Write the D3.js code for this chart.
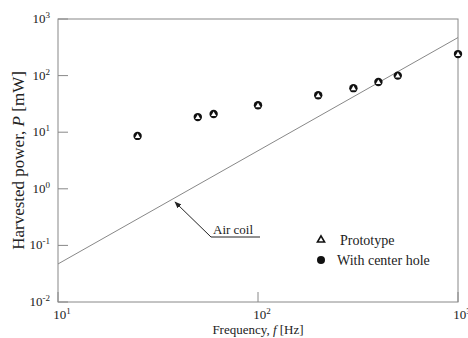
<!DOCTYPE html>
<html>
<head>
<meta charset="utf-8">
<script src="https://cdn.jsdelivr.net/npm/d3@7"></script>
<style>
body { margin: 0; background: #fff; overflow: hidden; }
text { font-family: "Liberation Serif", "Times New Roman", serif; fill: #222; }
</style>
</head>
<body>
<script>
var freq = [25, 50, 60, 100, 200, 300, 400, 500, 1000];
var prototype = [8.6, 18.5, 21, 30, 45, 60, 77, 100, 240];
var centerHole = [8.6, 18.5, 21, 30, 45, 60, 77, 100, 240];
var airCoilF = [10, 1000];
var airCoilP = [0.047, 470];
var xTicks = [1, 2, 3];
var yTicks = [-2, -1, 0, 1, 2, 3];

var width = 468, height = 338;
var padL = 58, padR = 458, padT = 19, padB = 302;

var svg = d3.select("body").append("svg")
  .attr("width", width)
  .attr("height", height);

var xscale = d3.scaleLog().domain([10, 1000]).range([padL, padR]);
var yscale = d3.scaleLog().domain([0.01, 1000]).range([padB, padT]);

// frame
svg.append("rect")
  .attr("x", padL).attr("y", padT)
  .attr("width", padR - padL).attr("height", padB - padT)
  .attr("fill", "none").attr("stroke", "#888").attr("stroke-width", 1);

// ticks (inside)
svg.selectAll(".xt").data(xTicks).enter().append("line")
  .attr("x1", d => xscale(Math.pow(10, d))).attr("x2", d => xscale(Math.pow(10, d)))
  .attr("y1", padB).attr("y2", padB - 10)
  .attr("stroke", "#888");
svg.selectAll(".yt").data(yTicks).enter().append("line")
  .attr("x1", padL).attr("x2", padL + 10)
  .attr("y1", d => yscale(Math.pow(10, d))).attr("y2", d => yscale(Math.pow(10, d)))
  .attr("stroke", "#888");

// tick labels 10^n
var xl = svg.selectAll(".xl").data(xTicks).enter().append("text")
  .attr("x", d => xscale(Math.pow(10, d)) + 4)
  .attr("y", padB + 17)
  .attr("text-anchor", "middle")
  .style("font-size", "13px");
xl.append("tspan").text("10");
xl.append("tspan").attr("dy", -5).style("font-size", "9px").text(d => d);

var yl = svg.selectAll(".yl").data(yTicks).enter().append("text")
  .attr("x", padL - 8)
  .attr("y", d => yscale(Math.pow(10, d)) + 4)
  .attr("text-anchor", "end")
  .style("font-size", "13px");
yl.append("tspan").text("10");
yl.append("tspan").attr("dy", -5).style("font-size", "9px").text(d => d);

// axis titles
var xt = svg.append("text")
  .attr("x", (padL + padR) / 2).attr("y", 334)
  .attr("text-anchor", "middle")
  .style("font-size", "13px");
xt.append("tspan").text("Frequency, ");
xt.append("tspan").style("font-style", "italic").text("f");
xt.append("tspan").text(" [Hz]");

var yt = svg.append("text")
  .attr("transform", "translate(24," + ((padT + padB) / 2) + ") rotate(-90)")
  .attr("text-anchor", "middle")
  .style("font-size", "17px");
yt.append("tspan").text("Harvested power, ");
yt.append("tspan").style("font-style", "italic").text("P");
yt.append("tspan").text(" [mW]");

// air coil line
var line = d3.line().x(d => xscale(d[0])).y(d => yscale(d[1]));
svg.append("path")
  .datum(d3.zip(airCoilF, airCoilP))
  .attr("d", line)
  .attr("fill", "none").attr("stroke", "#888").attr("stroke-width", 1);

// annotation arrow
svg.append("defs").append("marker")
  .attr("id", "arr").attr("viewBox", "0 0 10 10")
  .attr("refX", 9).attr("refY", 5)
  .attr("markerWidth", 7).attr("markerHeight", 7)
  .attr("orient", "auto-start-reverse")
  .append("path").attr("d", "M0,1 L10,5 L0,9 Z").attr("fill", "#222");
svg.append("polyline")
  .attr("points", "260,237 211,237 175,202")
  .attr("fill", "none").attr("stroke", "#222").attr("stroke-width", 1)
  .attr("marker-end", "url(#arr)");
svg.append("text").attr("x", 213).attr("y", 234)
  .style("font-size", "13px").text("Air coil");

// data markers
var tri = d3.symbol().type(d3.symbolTriangle).size(12);
svg.selectAll(".ch").data(centerHole).enter().append("circle")
  .attr("cx", (d, i) => xscale(freq[i]))
  .attr("cy", d => yscale(d))
  .attr("r", 4.2).attr("fill", "#111");
svg.selectAll(".pt").data(prototype).enter().append("path")
  .attr("d", tri)
  .attr("transform", (d, i) => "translate(" + xscale(freq[i]) + "," + (yscale(d) + 0.5) + ")")
  .attr("fill", "#fff");

// legend
svg.append("path")
  .attr("d", d3.symbol().type(d3.symbolTriangle).size(22))
  .attr("transform", "translate(321,240)")
  .attr("fill", "#fff").attr("stroke", "#111").attr("stroke-width", 1.6);
svg.append("text").attr("x", 340).attr("y", 245)
  .style("font-size", "14px").text("Prototype");
svg.append("circle").attr("cx", 321).attr("cy", 260).attr("r", 4).attr("fill", "#111");
svg.append("text").attr("x", 337).attr("y", 265)
  .style("font-size", "14px").text("With center hole");
</script>
</body>
</html>
